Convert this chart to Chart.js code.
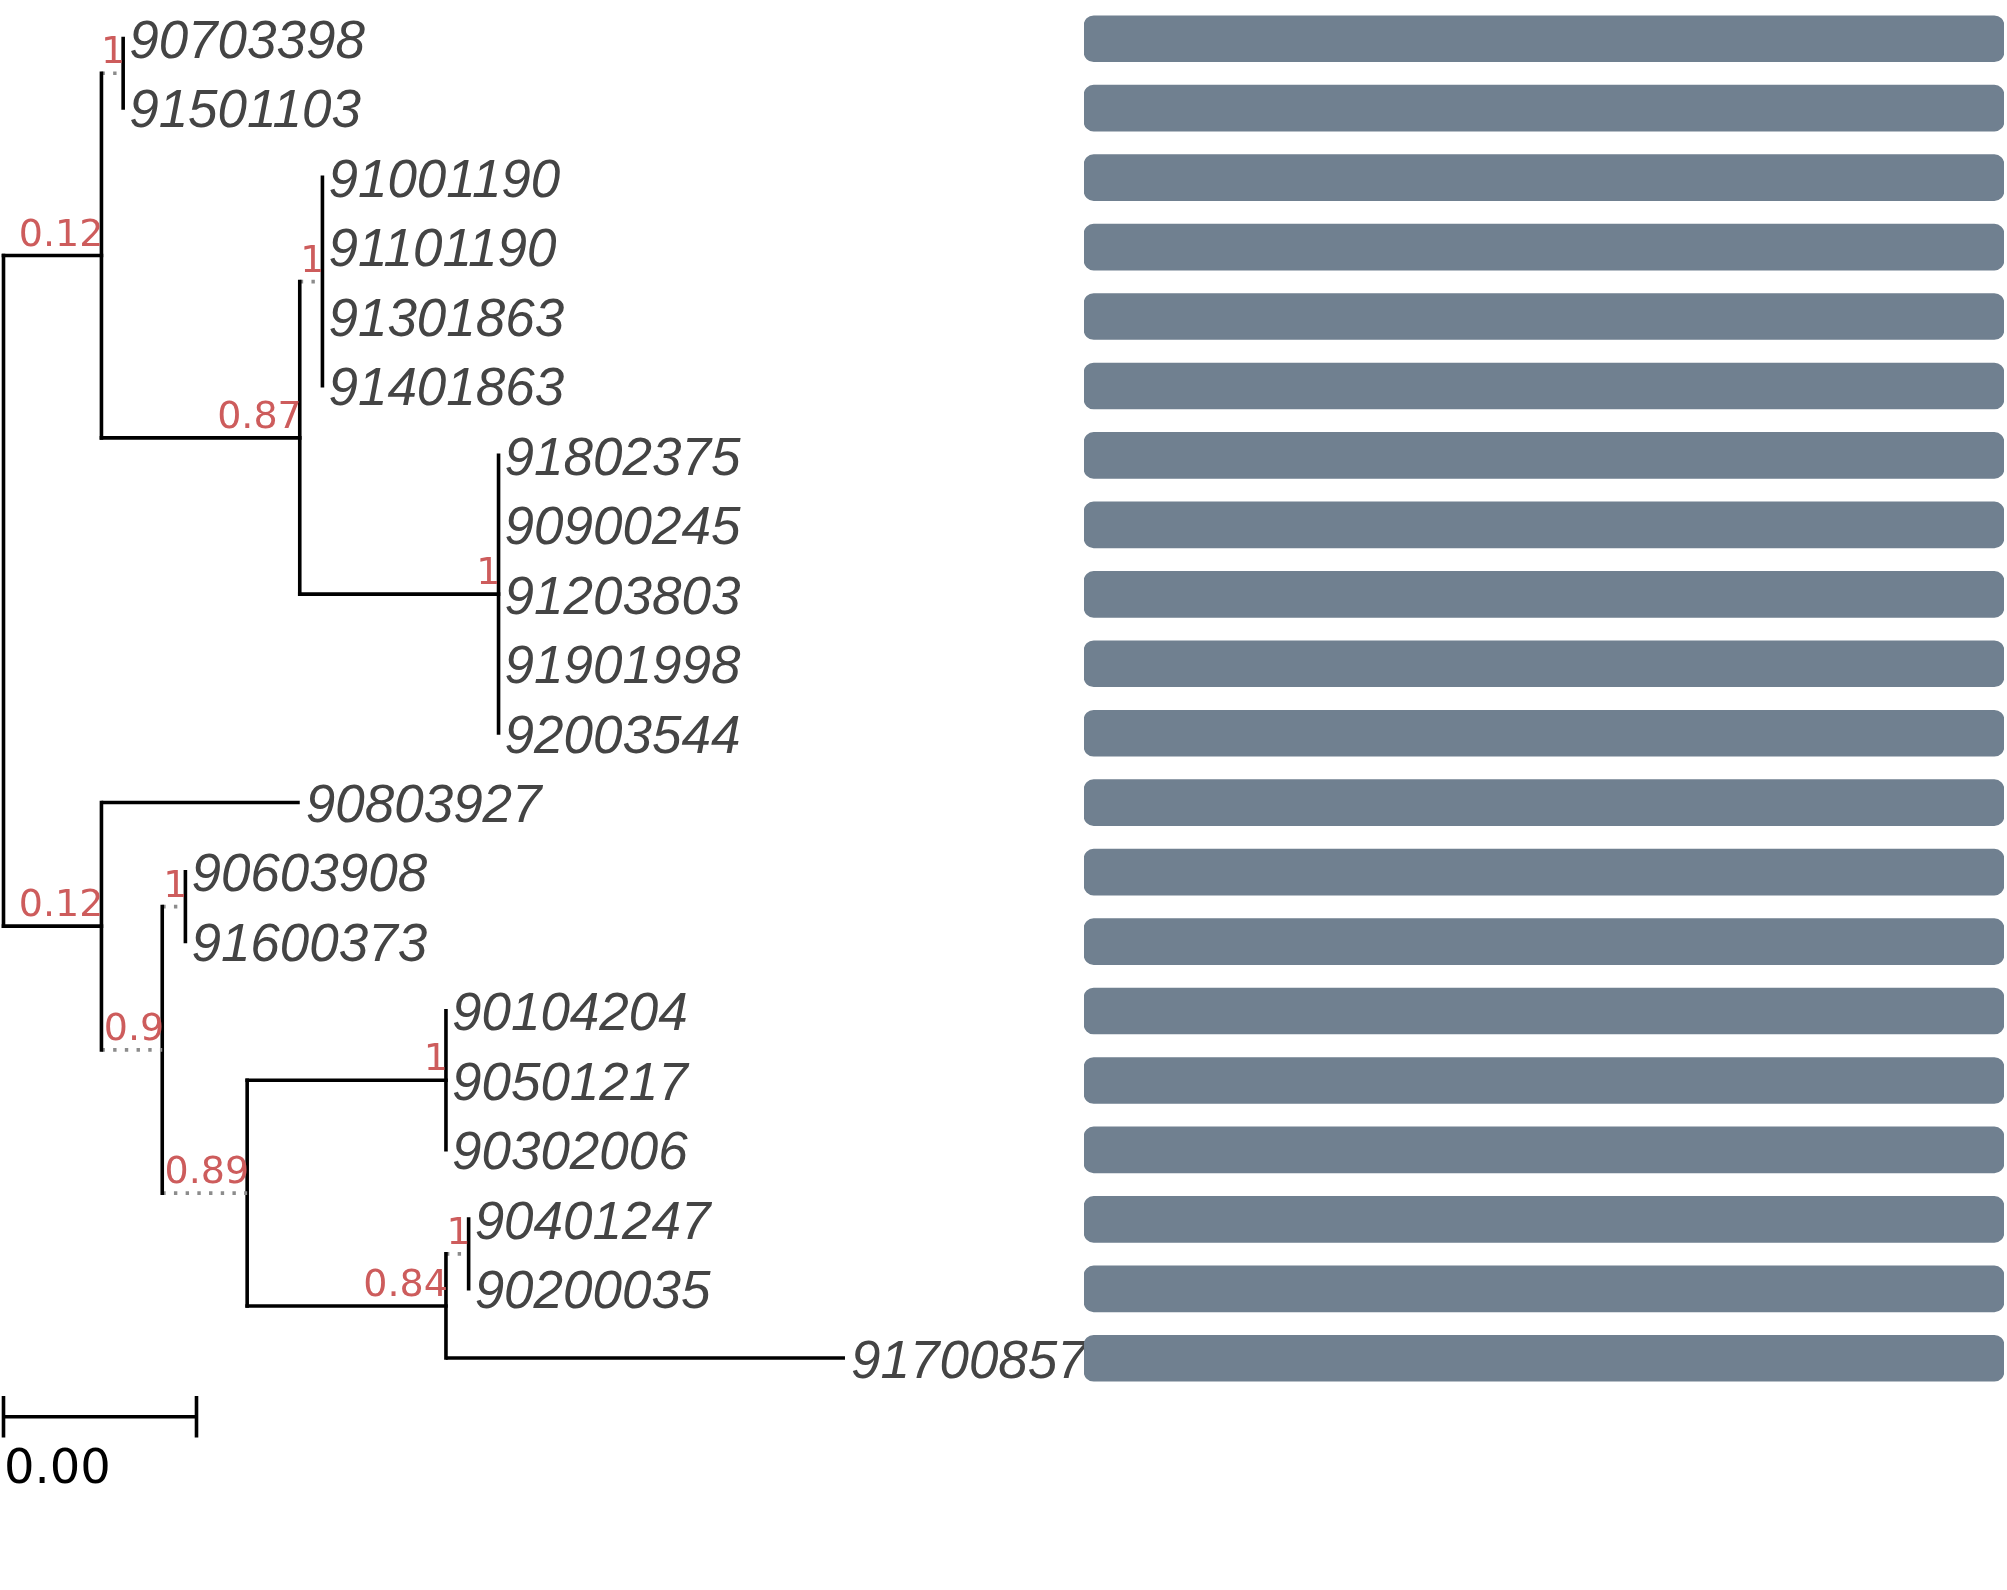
<!DOCTYPE html>
<html>
<head>
<meta charset="utf-8">
<script src="https://cdn.jsdelivr.net/npm/chart.js@4.4.1/dist/chart.umd.min.js"></script>
<style>
  html, body { margin: 0; padding: 0; background: #ffffff; overflow: hidden; }
  body { width: 2007px; height: 1590px; position: relative; }
  .box { position: absolute; }
</style>
</head>
<body>
<div class="box" id="treeBox" style="left:0px; top:0px; width:1100px; height:1590px;"><canvas id="tree"></canvas></div>
<div class="box" id="barBox" style="left:1084px; top:3.775px; width:920px; height:1389px;"><canvas id="bars"></canvas></div>
<script>
// tip labels, top to bottom
const tips = ['90703398', '91501103', '91001190', '91101190', '91301863', '91401863',
  '91802375', '90900245', '91203803', '91901998', '92003544', '90803927',
  '90603908', '91600373', '90104204', '90501217', '90302006', '90401247',
  '90200035', '91700857'];

// internal nodes (parents listed before children)
const nodeIds     = ['root', 'A', 'P1', 'B', 'Q', 'R', 'C', 'D', 'E', 'F', 'G', 'H', 'I'];
const nodeParent  = [null, 'root', 'A', 'A', 'B', 'B', 'root', 'C', 'D', 'D', 'F', 'F', 'H'];
const nodeLength  = [0, 0.00203, 0.00045, 0.00411, 0.00047, 0.00412, 0.00203, 0.00126, 0.00048, 0.00176, 0.00412, 0.00412, 0.00047];
const nodeSupport = [null, 0.12, 1, 0.87, 1, 1, 0.12, 0.9, 1, 0.89, 1, 0.84, 1];

// tips: parent node and branch length
const tipParent = ['P1', 'P1', 'Q', 'Q', 'Q', 'Q', 'R', 'R', 'R', 'R', 'R', 'C',
  'E', 'E', 'G', 'G', 'G', 'I', 'I', 'H'];
const tipLength = [0, 0, 0, 0, 0, 0, 0, 0, 0, 0, 0, 0.00411, 0, 0, 0, 0, 0, 0, 0, 0.00827];

// branches drawn dotted (by child node)
const dottedBranches = ['P1', 'Q', 'D', 'E', 'F', 'I'];

// bar values on the right
const barValues = [1, 1, 1, 1, 1, 1, 1, 1, 1, 1, 1, 1, 1, 1, 1, 1, 1, 1, 1, 1];

// tree scale
const scaleBarWidth = 0.004;

// layout
const ROW = 69.45;
const TOP = 3.775;
const PX_PER_UNIT = 193 / scaleBarWidth;
const ROOT_PX = 3.5;

// node depth
const depth = {};
nodeIds.forEach((id, i) => {
  depth[id] = nodeParent[i] ? depth[nodeParent[i]] + nodeLength[i] : 0;
});
const tipX = tips.map((t, i) => depth[tipParent[i]] + tipLength[i]);

// children y -> node y (mean of children)
const kids = {};
nodeIds.forEach(id => { kids[id] = []; });
tips.forEach((t, i) => kids[tipParent[i]].push(i));
const nodeY = {};
function yOf(id) {
  if (nodeY[id] !== undefined) return nodeY[id];
  const list = kids[id].slice();
  nodeIds.forEach((n, i) => { if (nodeParent[i] === id) list.push(yOf(n)); });
  nodeY[id] = list.reduce((a, b) => a + b, 0) / list.length;
  return nodeY[id];
}
nodeIds.forEach(yOf);

// segments
const solid = { borderColor: '#000000', borderWidth: 3.6, borderCapStyle: 'square', pointRadius: 0, tension: 0, fill: false };
const dotted = { borderColor: '#8c8c8c', borderWidth: 3.6, borderDash: [3.4, 8.3], borderCapStyle: 'butt', pointRadius: 0, tension: 0, fill: false };
const datasets = [];

nodeIds.forEach((id, i) => {
  const p = nodeParent[i];
  if (p) {
    const style = dottedBranches.includes(id) ? dotted : solid;
    datasets.push(Object.assign({ data: [{ x: depth[p], y: nodeY[id] }, { x: depth[id], y: nodeY[id] }] }, style));
  }
  // vertical line joining the children
  const ys = kids[id].slice();
  nodeIds.forEach((n, j) => { if (nodeParent[j] === id) ys.push(nodeY[n]); });
  datasets.push(Object.assign({ data: [{ x: depth[id], y: Math.min(...ys) }, { x: depth[id], y: Math.max(...ys) }] }, solid));
});

tips.forEach((t, i) => {
  if (tipLength[i] > 0) {
    const p = tipParent[i];
    datasets.push(Object.assign({ data: [{ x: depth[p], y: i }, { x: tipX[i], y: i }] }, solid, { borderCapStyle: 'butt' }));
  }
});

// scale bar
const sbY = tips.length - 1 + 0.845;
const sbTick = 0.3;
const sbStyle = Object.assign({}, solid, { borderCapStyle: 'butt' });
datasets.push(Object.assign({ data: [{ x: 0, y: sbY }, { x: scaleBarWidth, y: sbY }] }, sbStyle));
datasets.push(Object.assign({ data: [{ x: 0, y: sbY - sbTick }, { x: 0, y: sbY + sbTick }] }, sbStyle));
datasets.push(Object.assign({ data: [{ x: scaleBarWidth, y: sbY - sbTick }, { x: scaleBarWidth, y: sbY + sbTick }] }, sbStyle));

// text on the tree
const treeText = {
  id: 'treeText',
  afterDatasetsDraw(chart) {
    const { ctx } = chart;
    const x = chart.scales.x, y = chart.scales.y;
    ctx.save();
    ctx.textAlign = 'left';
    ctx.textBaseline = 'alphabetic';
    ctx.font = 'italic 53px "Liberation Sans", Arial, sans-serif';
    ctx.fillStyle = '#444444';
    tips.forEach((t, i) => {
      ctx.fillText(t, x.getPixelForValue(tipX[i]) + 6, y.getPixelForValue(i) + 19.5);
    });

    ctx.textAlign = 'right';
    ctx.font = '38px "DejaVu Sans", sans-serif';
    ctx.fillStyle = '#CD5C5C';
    nodeIds.forEach((id, i) => {
      if (nodeSupport[i] === null) return;
      ctx.fillText(String(nodeSupport[i]), x.getPixelForValue(depth[id]) + 2, y.getPixelForValue(nodeY[id]) - 10);
    });

    ctx.textAlign = 'left';
    ctx.font = '48px "DejaVu Sans", sans-serif';
    ctx.fillStyle = '#000000';
    ctx.fillText(scaleBarWidth.toFixed(2), x.getPixelForValue(0) + 0.5, y.getPixelForValue(sbY) + 66);
    ctx.restore();
  }
};

// tree chart
const treeW = 1100, treeH = 1590;
const xMin = -ROOT_PX / PX_PER_UNIT;
const yMin = -0.5 - TOP / ROW;
new Chart(document.getElementById('tree').getContext('2d'), {
  type: 'line',
  data: { datasets: datasets },
  options: {
    responsive: true,
    maintainAspectRatio: false,
    animation: false,
    events: [],
    layout: { padding: 0 },
    scales: {
      x: { type: 'linear', display: false, min: xMin, max: xMin + treeW / PX_PER_UNIT },
      y: { type: 'linear', display: false, reverse: true, min: yMin, max: yMin + treeH / ROW }
    },
    plugins: { legend: { display: false }, tooltip: { enabled: false } }
  },
  plugins: [treeText]
});

// bars chart
new Chart(document.getElementById('bars').getContext('2d'), {
  type: 'bar',
  data: {
    labels: tips,
    datasets: [{
      data: barValues,
      backgroundColor: '#708090',
      borderRadius: 10,
      borderSkipped: false,
      barThickness: 46
    }]
  },
  options: {
    indexAxis: 'y',
    responsive: true,
    maintainAspectRatio: false,
    animation: false,
    events: [],
    layout: { padding: 0 },
    scales: {
      x: { display: false, min: 0, max: 1 },
      y: { display: false }
    },
    plugins: { legend: { display: false }, tooltip: { enabled: false } }
  }
});
</script>
</body>
</html>
